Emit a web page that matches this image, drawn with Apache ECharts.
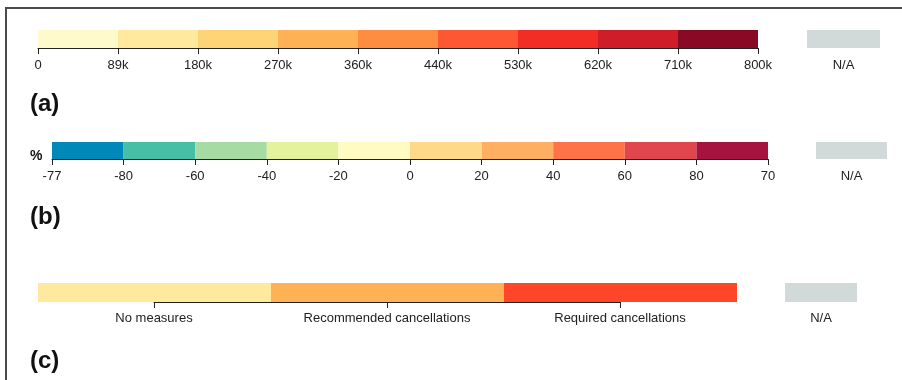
<!DOCTYPE html>
<html>
<head>
<meta charset="utf-8">
<script src="https://cdn.jsdelivr.net/npm/echarts@6/dist/echarts.min.js"></script>
<style>
  html, body { margin: 0; padding: 0; background: #fff; }
  #wrap { position: relative; width: 902px; height: 380px; }
  #chart { position: absolute; left: 0; top: 0; width: 902px; height: 380px; }
  #frame { position: absolute; left: 5px; top: 7px; right: 0; bottom: -5px;
           border-top: 2px solid #4a4a4a; border-left: 2px solid #4a4a4a; pointer-events: none; }
</style>
</head>
<body>
<div id="wrap">
  <div id="chart"></div>
  <div id="frame"></div>
</div>
<script>
// ---- Panel (a): number of cases ----
const ticksA = ['0', '89k', '180k', '270k', '360k', '440k', '530k', '620k', '710k', '800k'];
const binsA = [0, 1, 2, 3, 4, 5, 6, 7, 8];
const colorsA = ['#FFFACB', '#FEE99E', '#FED576', '#FEB155', '#FE8D41', '#FD5833', '#F22D26', '#CF1E29', '#880A24'];

// ---- Panel (b): percent change ----
const ticksB = ['-77', '-80', '-60', '-40', '-20', '0', '20', '40', '60', '80', '70'];
const binsB = [0, 1, 2, 3, 4, 5, 6, 7, 8, 9];
const colorsB = ['#0088B8', '#47BFA6', '#A7DBA4', '#E5F29D', '#FFFBC3', '#FFD98A', '#FFAF62', '#FF7348', '#E1464F', '#A7133F'];

// ---- Panel (c): measures ----
const catsC = ['No measures', 'Recommended cancellations', 'Required cancellations'];
const valuesC = [1, 1, 1];
const colorsC = ['#FEE99E', '#FEB155', '#FF4629'];

// ---- N/A ----
const naCats = ['N/A'];
const naValues = [1];
const naColor = '#D1D9D9';

const FONT = '"Liberation Sans", Arial, Helvetica, sans-serif';
const TXT = '#222';

function binRender(colors) {
  return function (params, api) {
    const i = api.value(0);
    const p0 = api.coord([i, 1]);
    const p1 = api.coord([i + 1, 0]);
    return {
      type: 'rect',
      shape: { x: p0[0], y: p0[1], width: p1[0] - p0[0], height: p1[1] - p0[1] },
      style: { fill: colors[i] }
    };
  };
}

function valueAxis(grid, max, ticks, margin) {
  return {
    type: 'value', gridIndex: grid, min: 0, max: max, interval: 1, z: 10,
    axisLine: { show: true, lineStyle: { color: TXT, width: 1 } },
    axisTick: { show: true, length: 6, lineStyle: { color: TXT, width: 1 } },
    axisLabel: { margin: margin, fontSize: 13, color: TXT, fontFamily: FONT,
                 formatter: v => ticks[Math.round(v)] },
    splitLine: { show: false }
  };
}
function naAxis(grid, margin) {
  return {
    type: 'category', gridIndex: grid, data: naCats,
    axisLine: { show: false }, axisTick: { show: false },
    axisLabel: { margin: margin, fontSize: 13, color: TXT, fontFamily: FONT }
  };
}
function hiddenY(grid) {
  return { type: 'value', gridIndex: grid, min: 0, max: 1, show: false };
}
function naSeries(xi) {
  return { type: 'bar', xAxisIndex: xi, yAxisIndex: xi, data: naValues, barWidth: '100%',
           itemStyle: { color: naColor }, silent: true, animation: false };
}

const chart = echarts.init(document.getElementById('chart'), null, { renderer: 'canvas' });
chart.setOption({
  animation: false,
  backgroundColor: 'transparent',
  title: [
    { text: '(a)', left: 25, top: 87, textStyle: { fontSize: 24, fontWeight: 'bold', color: '#111', fontFamily: FONT } },
    { text: '(b)', left: 25, top: 200, textStyle: { fontSize: 24, fontWeight: 'bold', color: '#111', fontFamily: FONT } },
    { text: '(c)', left: 25, top: 344, textStyle: { fontSize: 24, fontWeight: 'bold', color: '#111', fontFamily: FONT } },
    { text: '%', left: 25, top: 144, textStyle: { fontSize: 14, fontWeight: 'bold', color: '#111', fontFamily: FONT } }
  ],
  grid: [
    { left: 38, top: 30, width: 720, height: 18 },
    { left: 807, top: 30, width: 73, height: 18 },
    { left: 52, top: 142, width: 716, height: 17 },
    { left: 816, top: 142, width: 71, height: 17 },
    { left: 38, top: 283, width: 699, height: 19 },
    { left: 154, top: 283, width: 466, height: 19 },
    { left: 785, top: 283, width: 72, height: 19 }
  ],
  xAxis: [
    valueAxis(0, 9, ticksA, 11),
    naAxis(1, 11),
    valueAxis(2, 10, ticksB, 11),
    naAxis(3, 11),
    { type: 'category', gridIndex: 4, data: catsC, show: false },
    { type: 'category', gridIndex: 5, data: catsC, boundaryGap: false, z: 10,
      axisLine: { show: true, lineStyle: { color: TXT, width: 1 } },
      axisTick: { show: true, length: 6, lineStyle: { color: TXT, width: 1 } },
      axisLabel: { margin: 10, fontSize: 13, color: TXT, fontFamily: FONT, interval: 0 } },
    naAxis(6, 10)
  ],
  yAxis: [hiddenY(0), hiddenY(1), hiddenY(2), hiddenY(3), hiddenY(4), hiddenY(5), hiddenY(6)],
  series: [
    { type: 'custom', xAxisIndex: 0, yAxisIndex: 0, data: binsA.map(i => [i]),
      renderItem: binRender(colorsA), silent: true },
    naSeries(1),
    { type: 'custom', xAxisIndex: 2, yAxisIndex: 2, data: binsB.map(i => [i]),
      renderItem: binRender(colorsB), silent: true },
    naSeries(3),
    { type: 'bar', xAxisIndex: 4, yAxisIndex: 4, barWidth: '100%', silent: true,
      data: valuesC.map((v, i) => ({ value: v, itemStyle: { color: colorsC[i] } })) },
    naSeries(6)
  ]
});
</script>
</body>
</html>
